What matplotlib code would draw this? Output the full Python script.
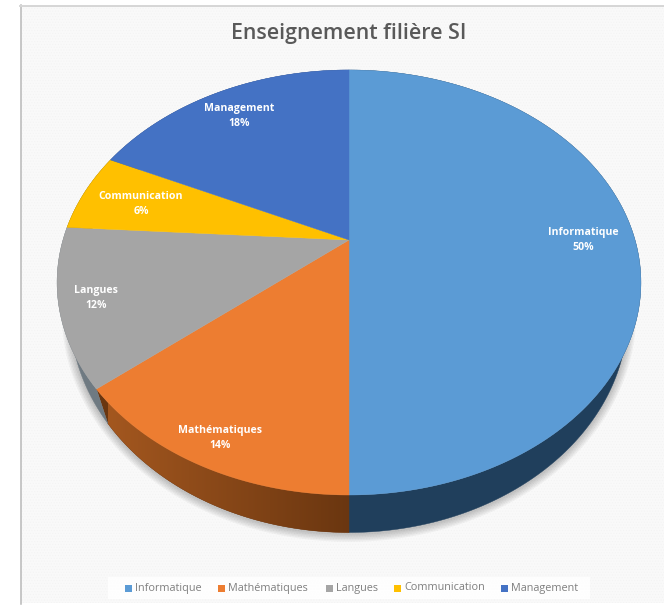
import numpy as np
from matplotlib import pyplot as plt
from matplotlib.colors import LinearSegmentedColormap
from matplotlib.patches import Polygon, Rectangle

categories = ['Informatique', 'Mathématiques', 'Langues', 'Communication', 'Management']
shares = [50, 14, 12, 6, 18]
pie_colors = ['#5B9BD5', '#ED7D31', '#A5A5A5', '#FFC000', '#4472C4']
wall_colors = ['#203f5c', '#6a3610', '#6f7a82', '#7a6000', '#2a4478']

label_xy = [(583, 240), (220, 438), (96, 298), (141, 204), (239, 116)]
legend_x = [125, 218, 326, 394, 501]

# tilted disc, seen in perspective
cx, cy = 349, 240
k, a, b = 0.2, 286, 204
depth = 30
shrink = 0.955


def disc(theta, low=False):
    # theta runs clockwise from twelve o'clock
    u, v = np.sin(theta), np.cos(theta)
    w = 1 + k * v
    x = a * u / w
    y = b * v / w
    if low:
        return cx + x * shrink, cy - y + depth / w
    return cx + x, cy - y


fig = plt.figure(figsize=(6.64, 6.05), dpi=100, facecolor='white')
ax = fig.add_axes([0, 0, 1, 1])
ax.set_xlim(0, 664)
ax.set_ylim(605, 0)
ax.axis('off')
plt.rcParams['font.family'] = ['Open Sans', 'DejaVu Sans']
plt.rcParams['hatch.linewidth'] = 0.4

# chart area with its thin frame on the left and top
ax.add_patch(Rectangle((21, 6), 650, 597, fc='#f9f9f9', ec='#f3f3f3', lw=0, hatch='......', zorder=0))
ax.plot([20.5, 20.5], [5, 604], color='#b8b8b8', lw=1.1, zorder=1)
ax.plot([20, 664], [5.5, 5.5], color='#d6d6d6', lw=1.4, zorder=1)

# soft shadow under the pie
t = np.linspace(np.pi * 0.5, np.pi * 1.5, 300)
sx, sy = disc(t, low=True)
for lw in [12, 10, 8, 6, 4, 2]:
    ax.plot(sx, sy + 1, color='black', alpha=0.04, lw=lw, solid_capstyle='round', zorder=2)

edges = np.cumsum([0] + shares) / 100 * 2 * np.pi

# side walls, only the near half shows
for i in range(len(shares)):
    t = np.linspace(edges[i], edges[i + 1], 200)
    x0, y0 = disc(t)
    x1, y1 = disc(t[::-1], low=True)
    pts = np.column_stack([np.r_[x0, x1], np.r_[y0, y1]])
    wall = Polygon(pts, fc=wall_colors[i], ec=wall_colors[i], lw=0.3, zorder=3)
    ax.add_patch(wall)
    if categories[i] == 'Mathématiques':
        # this wall gets lighter towards its left end
        cmap = LinearSegmentedColormap.from_list('wall', ['#a3571f', '#6a3610'])
        img = ax.imshow(np.linspace(0, 1, 256).reshape(1, -1), cmap=cmap, aspect='auto',
                        extent=(x1.min(), x0.max() + 1, y1.max() + 1, y0.min()), zorder=3.1)
        img.set_clip_path(wall)
ax.set_xlim(0, 664)
ax.set_ylim(605, 0)

# top face
for i in range(len(shares)):
    t = np.linspace(edges[i], edges[i + 1], 200)
    x, y = disc(t)
    pts = np.column_stack([np.r_[cx, x], np.r_[cy, y]])
    ax.add_patch(Polygon(pts, fc=pie_colors[i], ec=pie_colors[i], lw=0.3, zorder=4))

for name, share, (lx, ly) in zip(categories, shares, label_xy):
    ax.text(lx, ly, f'{name}\n{share}%', color='white', fontsize=7.6, fontweight='bold',
            ha='center', va='center', linespacing=1.6, zorder=5)

ax.text(349, 33, 'Enseignement filière SI', color='#595959', fontsize=15.4,
        fontweight='semibold', ha='center', va='center', zorder=5)

# legend strip
ax.add_patch(Rectangle((108, 577), 482, 22, fc='white', ec='none', alpha=0.85, zorder=4))
for name, col, lx in zip(categories, pie_colors, legend_x):
    ax.add_patch(Rectangle((lx, 584.5), 7, 7, fc=col, ec='none', zorder=5))
    ax.text(lx + 10, 588, name, color='#7f7f7f', fontsize=7.8, ha='left', va='center', zorder=5)

fig.savefig('out.png', dpi=100)
